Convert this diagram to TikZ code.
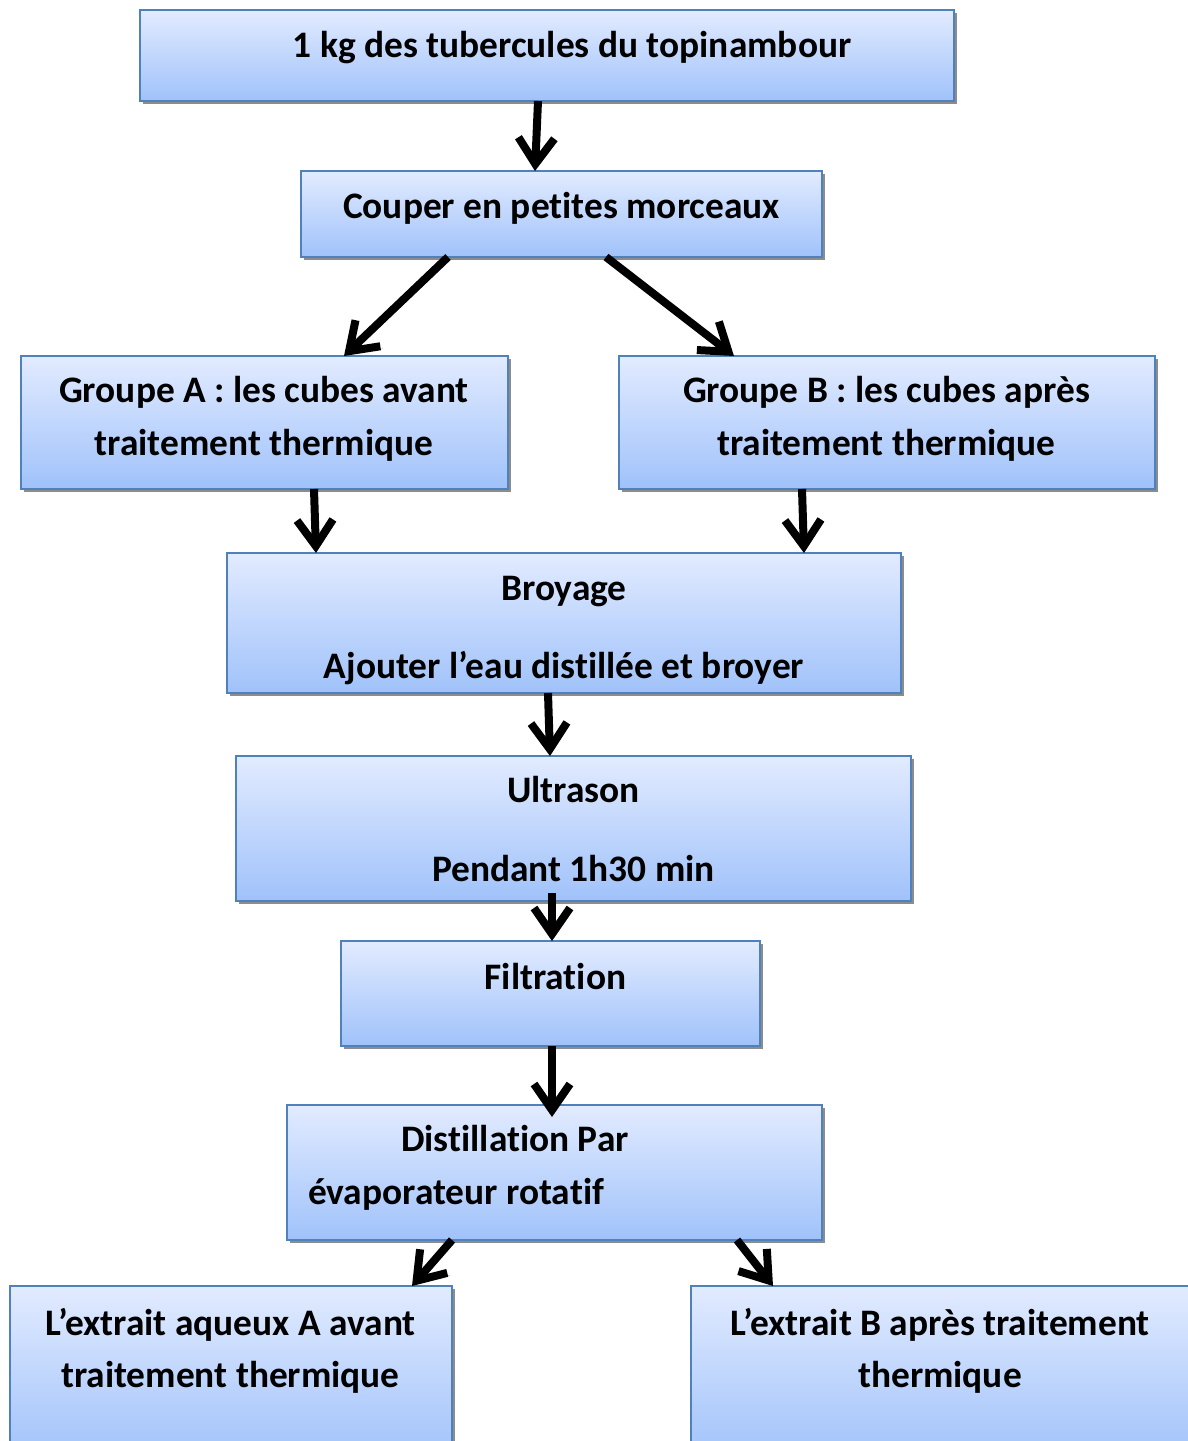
\documentclass[tikz,border=0pt]{standalone}
\usepackage{fontspec}
\setmainfont[Ligatures=NoCommon]{Carlito}
\usetikzlibrary{arrows.meta,shadows}
\definecolor{bordc}{RGB}{79,129,189}
\definecolor{topc}{RGB}{226,235,255}
\definecolor{botc}{RGB}{160,194,250}
\tikzset{
  box/.style={draw=bordc, line width=1.8pt, top color=topc, bottom color=botc,
    inner sep=0pt, outer sep=0pt,
    drop shadow={shadow xshift=3pt, shadow yshift=-3pt, fill=black!45, opacity=1}},
  lbl/.style={font=\fontsize{37.4}{44}\selectfont\bfseries, anchor=base, inner sep=0pt},
  lblw/.style={lbl, anchor=base west},
  arr/.style={line width=8pt, -{Straight Barb[length=26pt,width=36pt,line width=8pt]},
    preaction={draw=black!40, transform canvas={xshift=2.5pt,yshift=-2.5pt}}},
}
\begin{document}
\begin{tikzpicture}[x=1pt,y=-1pt]
\path[use as bounding box] (0,0) rectangle (1188,1441);
% boxes
\node[box, minimum width=814pt, minimum height=91pt] (top) at (547,55.5) {};
\node[box, minimum width=521pt, minimum height=86pt] (couper) at (561.5,214) {};
\node[box, minimum width=487pt, minimum height=133pt] (grpA) at (264.5,422.5) {};
\node[box, minimum width=536pt, minimum height=133pt] (grpB) at (887,422.5) {};
\node[box, minimum width=674pt, minimum height=140pt] (broy) at (564,623) {};
\node[box, minimum width=675pt, minimum height=145pt] (ultra) at (573.5,828.5) {};
\node[box, minimum width=419pt, minimum height=105pt] (filt) at (550.5,993.5) {};
\node[box, minimum width=535pt, minimum height=135pt] (dist) at (554.5,1172.5) {};
\node[box, minimum width=442pt, minimum height=174pt] (extA) at (231,1373) {};
\node[box, minimum width=509pt, minimum height=174pt] (extB) at (945.5,1373) {};
% texts
\node[lbl] (t1) at (572,57) {1 kg des tubercules du topinambour};
\node[lbl] (t2) at (561.5,218) {Couper en petites morceaux};
\node[lbl] (t3a) at (264,402.5) {Groupe A : les cubes avant};
\node[lbl] (t3b) at (264,455.5) {traitement thermique};
\node[lbl] (t4a) at (886.5,402.5) {Groupe B : les cubes après};
\node[lbl] (t4b) at (886.5,455.5) {traitement thermique};
\node[lbl] (t5a) at (564,600.5) {Broyage};
\node[lbl] (t5b) at (564,678.5) {Ajouter l’eau distillée et broyer};
\node[lbl] (t6a) at (573.5,802.5) {Ultrason};
\node[lbl] (t6b) at (573.5,881.5) {Pendant 1h30 min};
\node[lbl] (t7) at (555.5,989.5) {Filtration};
\node[lblw] (t8a) at (401,1151.5) {Distillation Par};
\node[lblw] (t8b) at (308,1204.5) {évaporateur rotatif};
\node[lbl] (t9a) at (230.5,1335.5) {L’extrait aqueux A avant};
\node[lbl] (t9b) at (230.5,1387.5) {traitement thermique};
\node[lbl] (t10a) at (940,1335.5) {L’extrait B après traitement};
\node[lbl] (t10b) at (940,1387.5) {thermique};
% connectors
\draw[arr] ([xshift=-9pt]top.south) -- ([xshift=-26.5pt]couper.north);
\draw[arr] ([xshift=-113.5pt]couper.south) -- ([xshift=79.5pt]grpA.north);
\draw[arr] ([xshift=44.5pt]couper.south) -- ([xshift=-153pt]grpB.north);
\draw[arr] ([xshift=49.5pt]grpA.south) -- ([xshift=-248pt]broy.north);
\draw[arr] ([xshift=-85pt]grpB.south) -- ([xshift=240pt]broy.north);
\draw[arr] ([xshift=-16pt]broy.south) -- ([xshift=-23.5pt]ultra.north);
\draw[arr] ([xshift=-21.5pt,yshift=8pt]ultra.south) -- ([xshift=1.5pt]filt.north);
\draw[arr] ([xshift=1.5pt]filt.south) -- ([xshift=-2.5pt,yshift=-12pt]dist.north);
\draw[arr] ([xshift=-102.5pt]dist.south) -- ([xshift=181pt]extA.north);
\draw[arr] ([xshift=182.5pt]dist.south) -- ([xshift=-172.5pt]extB.north);
\end{tikzpicture}
\end{document}
